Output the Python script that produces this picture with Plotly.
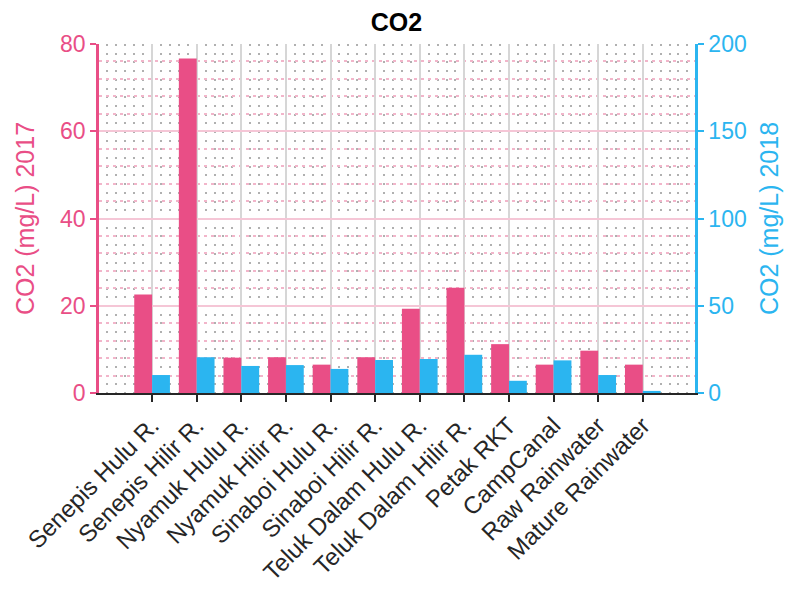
import plotly.graph_objects as go

sites = ["Senepis Hulu R.", "Senepis Hilir R.", "Nyamuk Hulu R.", "Nyamuk Hilir R.",
         "Sinaboi Hulu R.", "Sinaboi Hilir R.", "Teluk Dalam Hulu R.", "Teluk Dalam Hilir R.",
         "Petak RKT", "CampCanal", "Raw Rainwater", "Mature Rainwater"]
co2_2017 = [22.6, 76.7, 8.1, 8.2, 6.5, 8.2, 19.3, 24.1, 11.2, 6.5, 9.7, 6.5]
co2_2018 = [10.3, 20.5, 15.5, 16.0, 13.8, 18.9, 19.5, 21.9, 7.0, 18.7, 10.3, 1.2]
left_ticks = [0, 20, 40, 60, 80]
right_ticks = [0, 50, 100, 150, 200]

PINK = "#E94E86"
BLUE = "#2BB5F0"
FONT = "Liberation Sans, Arial, Helvetica, sans-serif"

x = list(range(len(sites)))

fig = go.Figure()
fig.add_trace(go.Bar(x=x, y=co2_2017, yaxis="y", marker=dict(color=PINK, line=dict(width=0)),
                     width=0.4, offset=-0.4, name="2017"))
fig.add_trace(go.Bar(x=x, y=co2_2018, yaxis="y2", marker=dict(color=BLUE, line=dict(width=0)),
                     width=0.4, offset=0.0, name="2018"))

fig.update_layout(
    width=793, height=589,
    margin=dict(l=99, r=98, t=44, b=196, autoexpand=False),
    paper_bgcolor="white", plot_bgcolor="white",
    showlegend=False, barmode="overlay",
    font=dict(family=FONT),
    title=dict(text="<b>CO2</b>", x=0.5, xanchor="center", y=0.962, yanchor="middle",
               font=dict(size=25, color="black", family=FONT)),
    xaxis=dict(
        automargin=False,
        range=[-1.19, 12.17], tickmode="array", tickvals=x, ticktext=sites,
        tickangle=-45, tickfont=dict(size=24, color="#262626"),
        ticks="outside", ticklen=7, tickwidth=2, tickcolor="#262626",
        showline=True, linecolor="#262626", linewidth=2,
        showgrid=True, gridcolor="#D6D6D6", gridwidth=2,
        minor=dict(showgrid=True, dtick=0.2, tick0=0, gridcolor="#B0B0B0",
                   griddash="2px,6.7px", gridwidth=2),
        zeroline=False,
    ),
    yaxis=dict(
        automargin=False,
        range=[0, 80], tickvals=left_ticks, tickfont=dict(size=23, color=PINK),
        title=dict(text="CO2 (mg/L) 2017", font=dict(size=25, color=PINK), standoff=19),
        ticks="outside", ticklen=6, tickwidth=2, tickcolor=PINK,
        showline=True, linecolor=PINK, linewidth=2.5,
        showgrid=True, gridcolor="#F5C6D6", gridwidth=1.5,
        zeroline=False,
    ),
    yaxis2=dict(
        automargin=False,
        range=[0, 200], tickvals=right_ticks, tickfont=dict(size=23, color=BLUE),
        title=dict(text="CO2 (mg/L) 2018", font=dict(size=25, color=BLUE), standoff=15),
        overlaying="y", side="right",
        ticks="outside", ticklen=6, tickwidth=2, tickcolor=BLUE,
        showline=True, linecolor=BLUE, linewidth=2.5,
        showgrid=False, zeroline=False,
        minor=dict(showgrid=True, dtick=10, tick0=0, gridcolor="#F2B5CA",
                   griddash="3px,4px", gridwidth=1.5),
    ),
)

fig.write_html("out.html")
